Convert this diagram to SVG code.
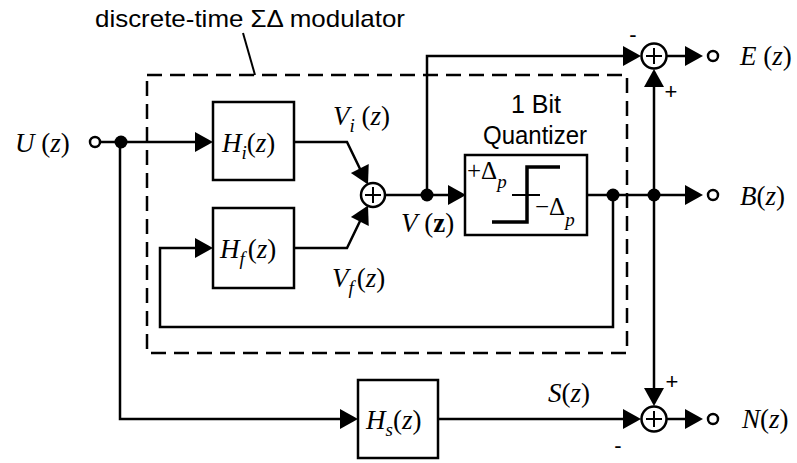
<svg xmlns="http://www.w3.org/2000/svg" width="797" height="463" viewBox="0 0 797 463">
<defs>
<style>
.ln{fill:none;stroke:#000;stroke-width:2.5}
.dash{fill:none;stroke:#000;stroke-width:2.5;stroke-dasharray:15,8}
.box{fill:#fff;stroke:#000;stroke-width:2.5}
.sum{fill:#fff;stroke:#000;stroke-width:2.5}
.oc{fill:#fff;stroke:#000;stroke-width:2.5}
.lab{font-family:"Liberation Serif","Times New Roman",serif;font-size:27px;fill:#000}
.i{font-style:italic}
.s{font-style:italic;font-size:19px}
.sans{font-family:"Liberation Sans",Arial,sans-serif;fill:#000}
.q{font-family:"Liberation Serif","Times New Roman",serif;font-size:25px;fill:#000}
.sign{font-family:"Liberation Sans",Arial,sans-serif;font-size:22px;fill:#000;text-anchor:middle}
</style>
<path id="ah" d="M0,0 L-18,-10 L-18,10 Z" fill="#000"/>
</defs>

<g id="title">
<text class="sans" x="95" y="27" font-size="24" textLength="310" lengthAdjust="spacingAndGlyphs">discrete-time ΣΔ modulator</text>
<line x1="243" y1="33" x2="255" y2="75" stroke="#000" stroke-width="2"/>
</g>
<g id="modulator-boundary">
<rect class="dash" x="147" y="75" width="480" height="278"/>
</g>

<g id="connectors">
<line class="ln" x1="100" y1="142" x2="200" y2="142"/>
<polyline class="ln" points="120,142 120,419 345,419"/>
<polyline class="ln" points="294,142 347,142 362,173"/>
<polyline class="ln" points="294,248 347,248 362,217"/>
<polyline class="ln" points="613,195 613,327 160,327 160,248 200,248"/>
<line class="ln" x1="385" y1="195" x2="453" y2="195"/>
<polyline class="ln" points="427,195 427,56 628,56"/>
<line class="ln" x1="587" y1="195" x2="690" y2="195"/>
<line class="ln" x1="654" y1="195" x2="654" y2="82"/>
<line class="ln" x1="654" y1="195" x2="654" y2="393"/>
<line class="ln" x1="438" y1="419" x2="628" y2="419"/>
<line class="ln" x1="666" y1="56" x2="690" y2="56"/>
<line class="ln" x1="666" y1="419" x2="690" y2="419"/>
<use href="#ah" transform="translate(213,142)"/>
<use href="#ah" transform="translate(358,419)"/>
<use href="#ah" transform="translate(368,184.5) rotate(63)"/>
<use href="#ah" transform="translate(368,205.5) rotate(-63)"/>
<use href="#ah" transform="translate(213,248)"/>
<use href="#ah" transform="translate(466,195)"/>
<use href="#ah" transform="translate(641,56)"/>
<use href="#ah" transform="translate(703,56)"/>
<use href="#ah" transform="translate(703,195)"/>
<use href="#ah" transform="translate(703,419)"/>
<use href="#ah" transform="translate(654,69) rotate(-90)"/>
<use href="#ah" transform="translate(654,406) rotate(90)"/>
<use href="#ah" transform="translate(641,419)"/>
<circle cx="121" cy="142" r="6.5" fill="#000"/>
<circle cx="427" cy="195" r="6.5" fill="#000"/>
<circle cx="613" cy="195" r="6.5" fill="#000"/>
<circle cx="654" cy="195" r="6.5" fill="#000"/>
</g>

<g id="U">
<circle class="oc" cx="95" cy="142" r="5"/>
<text class="lab" x="15" y="152"><tspan class="i">U</tspan> (<tspan class="i">z</tspan>)</text>
</g>

<g id="Hi">
<rect class="box" x="213" y="102" width="81" height="78"/>
<text class="lab" x="222" y="152"><tspan class="i">H</tspan><tspan class="s" dy="7">i</tspan><tspan dy="-7">(</tspan><tspan class="i">z</tspan>)</text>
</g>

<g id="Hf">
<rect class="box" x="213" y="208" width="81" height="80"/>
<text class="lab" x="220" y="258"><tspan class="i">H</tspan><tspan class="s" dy="7">f</tspan><tspan dx="3" dy="-7">(</tspan><tspan class="i">z</tspan>)</text>
</g>

<g id="Hs">
<rect class="box" x="358" y="380" width="80" height="78"/>
<text class="lab" x="366" y="429"><tspan class="i">H</tspan><tspan class="s" dy="7">s</tspan><tspan dy="-7">(</tspan><tspan class="i">z</tspan>)</text>
</g>

<g id="sum1">
<circle class="sum" cx="373" cy="195" r="12"/>
<path class="ln" d="M365,195 H381 M373,187 V203" style="stroke-width:2"/>
</g>

<g id="signal-labels">
<text class="lab" x="333" y="125"><tspan class="i">V</tspan><tspan class="s" dy="7">i</tspan><tspan dy="-7"> (</tspan><tspan class="i">z</tspan>)</text>
<text class="lab" x="332" y="287"><tspan class="i">V</tspan><tspan class="s" dy="7">f</tspan><tspan dx="3" dy="-7">(</tspan><tspan class="i">z</tspan>)</text>
<text class="lab" x="401" y="232"><tspan class="i">V</tspan> (<tspan font-weight="bold">z</tspan>)</text>
<text class="lab" x="548" y="402"><tspan class="i">S</tspan>(<tspan class="i">z</tspan>)</text>
</g>

<g id="quantizer">
<text class="sans" x="536" y="113" font-size="25" text-anchor="middle">1 Bit</text>
<text class="sans" x="535" y="144" font-size="26" text-anchor="middle" textLength="104" lengthAdjust="spacingAndGlyphs">Quantizer</text>
<rect class="box" x="465" y="155" width="122" height="80"/>
<path d="M560,167 H527 V222 H492" fill="none" stroke="#000" stroke-width="3.5"/>
<line x1="512" y1="195" x2="540" y2="195" stroke="#000" stroke-width="2"/>
<text class="q" x="467" y="179">+Δ<tspan class="s" font-size="21" dy="9">p</tspan></text>
<text class="q" x="535" y="215">−Δ<tspan class="s" font-size="21" dy="11">p</tspan></text>
</g>

<g id="sumE">
<circle class="sum" cx="654" cy="56" r="12.5"/>
<path class="ln" d="M646,56 H662 M654,48 V64" style="stroke-width:2"/>
<text class="sign" x="633" y="42">-</text>
<text class="sign" x="671" y="99">+</text>
</g>

<g id="sumN">
<circle class="sum" cx="654" cy="419" r="12.5"/>
<path class="ln" d="M646,419 H662 M654,411 V427" style="stroke-width:2"/>
<text class="sign" x="672" y="389">+</text>
<text class="sign" x="618" y="453">-</text>
</g>

<g id="E">
<circle class="oc" cx="713" cy="56" r="5"/>
<text class="lab" x="740" y="65"><tspan class="i">E</tspan> (<tspan class="i">z</tspan>)</text>
</g>
<g id="B">
<circle class="oc" cx="713" cy="195" r="5"/>
<text class="lab" x="740" y="205"><tspan class="i">B</tspan>(<tspan class="i">z</tspan>)</text>
</g>
<g id="N">
<circle class="oc" cx="713" cy="419" r="5"/>
<text class="lab" x="742" y="428"><tspan class="i">N</tspan>(<tspan class="i">z</tspan>)</text>
</g>
</svg>
